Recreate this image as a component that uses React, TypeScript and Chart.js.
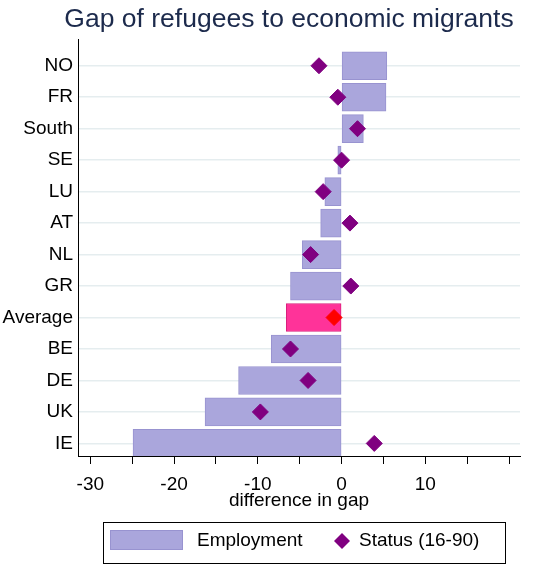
import React, { useEffect, useRef } from 'react';
import { Chart, registerables } from 'chart.js';

Chart.register(...registerables);

const TITLE = 'Gap of refugees to economic migrants';
const X_TITLE = 'difference in gap';

const categories = ['NO', 'FR', 'South', 'SE', 'LU', 'AT', 'NL', 'GR', 'Average', 'BE', 'DE', 'UK', 'IE'];
const employment = [5.4, 5.3, 2.6, -0.45, -2.0, -2.5, -4.7, -6.1, -6.6, -8.4, -12.3, -16.3, -24.9];
const status = [-2.7, -0.45, 1.9, 0.0, -2.2, 1.0, -3.7, 1.1, -0.9, -6.1, -4.0, -9.7, 3.9];
const xTickLabels = [-30, -20, -10, 0, 10];

const FONT = '"Liberation Sans", Arial, sans-serif';
const BAR_FILL = '#aaa6dc';
const BAR_BORDER = '#9893d0';
const AVG_FILL = '#ff3399';
const AVG_BORDER = '#d91f7c';
const DOT = '#800080';
const AVG_DOT = '#ff0000';

const isAvg = (c: string) => c === 'Average';

// title drawn by hand so it can sit off-centre like the original
const titlePlugin = {
  id: 'topTitle',
  afterDraw(chart: any) {
    const ctx = chart.ctx;
    ctx.save();
    ctx.font = `26.5px ${FONT}`;
    ctx.fillStyle = '#1c2a4c';
    ctx.textAlign = 'center';
    ctx.textBaseline = 'alphabetic';
    ctx.fillText(TITLE, 289, 27);
    ctx.restore();
  },
};

// boxed legend at the bottom
const boxLegend = {
  id: 'boxLegend',
  afterDraw(chart: any) {
    const ctx = chart.ctx;
    const [bars, points] = chart.data.datasets;
    ctx.save();
    ctx.strokeStyle = '#000';
    ctx.lineWidth = 1;
    ctx.strokeRect(103.5, 522.5, 402, 41);

    ctx.fillStyle = BAR_FILL;
    ctx.fillRect(110, 530, 73, 20);
    ctx.strokeStyle = BAR_BORDER;
    ctx.strokeRect(110.5, 530.5, 72, 19);

    ctx.font = `19px ${FONT}`;
    ctx.fillStyle = '#000';
    ctx.textAlign = 'left';
    ctx.textBaseline = 'middle';
    ctx.fillText(bars.label, 197, 541);

    ctx.fillStyle = DOT;
    ctx.beginPath();
    ctx.moveTo(342 - 8, 541);
    ctx.lineTo(342, 541 - 8);
    ctx.lineTo(342 + 8, 541);
    ctx.lineTo(342, 541 + 8);
    ctx.closePath();
    ctx.fill();

    ctx.fillStyle = '#000';
    ctx.fillText(points.label, 359, 541);
    ctx.restore();
  },
};

const App: React.FC = () => {
  const canvasRef = useRef<HTMLCanvasElement>(null);
  const chartRef = useRef<Chart | null>(null);

  useEffect(() => {
    if (!canvasRef.current) return;
    if (chartRef.current) chartRef.current.destroy();

    chartRef.current = new Chart(canvasRef.current, {
      type: 'bar',
      data: {
        datasets: [
          {
            type: 'bar',
            label: 'Employment',
            data: employment.map((v, i) => ({ x: v, y: i })),
            backgroundColor: categories.map((c) => (isAvg(c) ? AVG_FILL : BAR_FILL)),
            borderColor: categories.map((c) => (isAvg(c) ? AVG_BORDER : BAR_BORDER)),
            borderWidth: 1,
            borderSkipped: false,
            barThickness: 28,
            order: 1,
          },
          {
            type: 'scatter',
            label: 'Status (16-90)',
            data: status.map((v, i) => ({ x: v, y: i })),
            pointStyle: 'rectRot',
            pointRadius: 8,
            pointBorderWidth: 1,
            backgroundColor: categories.map((c) => (isAvg(c) ? AVG_DOT : DOT)),
            borderColor: categories.map((c) => (isAvg(c) ? AVG_DOT : DOT)),
            order: 0,
          },
        ] as any,
      },
      options: {
        indexAxis: 'y',
        animation: false,
        responsive: true,
        maintainAspectRatio: false,
        layout: { padding: { top: 39, right: 13, left: 0, bottom: 58 } },
        scales: {
          x: {
            type: 'linear',
            min: -31.47,
            max: 21.3,
            afterFit: (scale: any) => {
              scale.height = 56;
            },
            border: { color: '#000', width: 1 },
            grid: { drawOnChartArea: false, drawTicks: true, tickLength: 8, color: '#000' },
            ticks: {
              stepSize: 5,
              includeBounds: false,
              autoSkip: false,
              maxRotation: 0,
              padding: 9,
              color: '#000',
              font: { family: FONT, size: 19 },
              callback: (v: any) => (xTickLabels.includes(Number(v)) ? String(v) : ''),
            },
            title: {
              display: true,
              text: X_TITLE,
              color: '#000',
              font: { family: FONT, size: 19 },
              padding: { top: 0, bottom: 0 },
            },
          },
          y: {
            type: 'linear',
            reverse: true,
            offset: false,
            min: -0.85,
            max: 12.4,
            afterFit: (scale: any) => {
              scale.width = 78;
            },
            border: { color: '#000', width: 1 },
            grid: { offset: false, color: '#e5edef', lineWidth: 1.5, drawTicks: false },
            ticks: {
              stepSize: 1,
              includeBounds: false,
              autoSkip: false,
              padding: 5,
              color: '#000',
              font: { family: FONT, size: 19 },
              callback: (v: any) => categories[Number(v)] ?? '',
            },
          },
        },
        plugins: {
          legend: { display: false },
          title: { display: false },
          tooltip: { enabled: false },
        },
      },
      plugins: [titlePlugin, boxLegend],
    });

    return () => chartRef.current?.destroy();
  }, []);

  return (
    <div style={{ position: 'absolute', left: 0, top: 0, width: 533, height: 570, background: '#fff' }}>
      <canvas ref={canvasRef} />
    </div>
  );
};

export default App;
